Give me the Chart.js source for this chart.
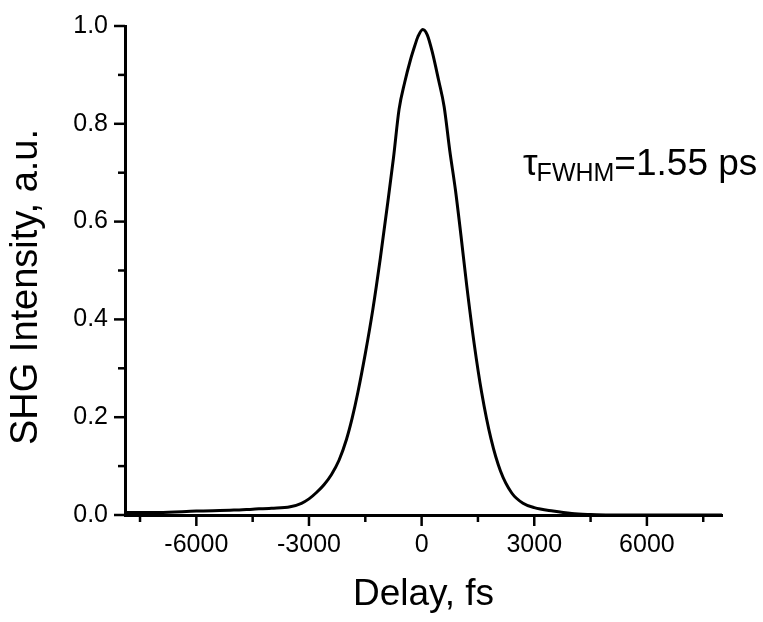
<!DOCTYPE html>
<html>
<head>
<meta charset="utf-8">
<script src="https://cdn.jsdelivr.net/npm/chart.js@4.4.0/dist/chart.umd.min.js"></script>
<style>
html, body { margin: 0; padding: 0; background: #fff; }
#wrap { width: 763px; height: 622px; }
</style>
</head>
<body>
<div id="wrap"><canvas id="c"></canvas></div>
<script>
// autocorrelation trace
var delayFs = [-7900, -7000, -6000, -5000, -4500, -4000, -3500, -3200, -3000, -2800,
	-2600, -2400, -2200, -2000, -1850, -1700, -1500, -1300, -1100, -900,
	-750, -600, -450, -300, -180, -100, 30, 150, 280, 450,
	600, 750, 900, 1050, 1200, 1400, 1600, 1850, 2100, 2400,
	2700, 3000, 3500, 4000, 4500, 5000, 6000, 7000, 8000];
var shgIntensity = [0.005, 0.005, 0.008, 0.010, 0.012, 0.014, 0.017, 0.024, 0.033, 0.046,
	0.062, 0.083, 0.112, 0.155, 0.198, 0.250, 0.330, 0.420, 0.525, 0.640,
	0.730, 0.830, 0.885, 0.930, 0.960, 0.978, 0.993, 0.982, 0.948, 0.890,
	0.835, 0.745, 0.665, 0.570, 0.470, 0.350, 0.250, 0.155, 0.090, 0.045,
	0.024, 0.015, 0.008, 0.003, 0.001, 0, 0, 0, 0];

var xTicks = [-7500, -6000, -4500, -3000, -1500, 0, 1500, 3000, 4500, 6000, 7500];
var xLabels = ["-6000", "-3000", "0", "3000", "6000"];
var yTicks = [0, 0.1, 0.2, 0.3, 0.4, 0.5, 0.6, 0.7, 0.8, 0.9, 1.0];
var yLabels = ["0.0", "0.2", "0.4", "0.6", "0.8", "1.0"];

var xTitle = "Delay, fs";
var yTitle = "SHG Intensity, a.u.";
var note = ["\u03c4", "FWHM", "=1.55 ps"];

var FONT = '"Liberation Sans", Arial, sans-serif';

function fmtX(v) { return String(v); }
function fmtY(v) { return Number(v).toFixed(1); }

// short outward ticks, longer on labelled values
var axisTicks = {
	id: "axisTicks",
	afterDraw: function(chart) {
		var ctx = chart.ctx;
		var a = chart.chartArea;
		var xs = chart.scales.x, ys = chart.scales.y;
		ctx.save();
		ctx.strokeStyle = "#000";
		ctx.lineWidth = 2.5;
		xTicks.forEach(function(v) {
			var px = xs.getPixelForValue(v);
			var len = xLabels.indexOf(fmtX(v)) >= 0 ? 11 : 7;
			ctx.beginPath();
			ctx.moveTo(px, a.bottom);
			ctx.lineTo(px, a.bottom + len);
			ctx.stroke();
		});
		yTicks.forEach(function(v) {
			var py = ys.getPixelForValue(v);
			var len = yLabels.indexOf(fmtY(v)) >= 0 ? 11 : 7;
			ctx.beginPath();
			ctx.moveTo(a.left, py);
			ctx.lineTo(a.left - len, py);
			ctx.stroke();
		});

		// y title
		ctx.fillStyle = "#000";
		ctx.save();
		ctx.translate(27, 287);
		ctx.rotate(-Math.PI / 2);
		ctx.font = "38px " + FONT;
		ctx.textAlign = "center";
		ctx.textBaseline = "middle";
		ctx.fillText(yTitle, 0, 0);
		ctx.restore();

		// tau_FWHM note
		var nx = xs.getPixelForValue(2700);
		var ny = ys.getPixelForValue(0.695);
		ctx.textAlign = "left";
		ctx.textBaseline = "alphabetic";
		ctx.font = "37px " + FONT;
		ctx.fillText(note[0], nx, ny);
		nx += ctx.measureText(note[0]).width - 1;
		ctx.font = "25px " + FONT;
		ctx.fillText(note[1], nx, ny + 6);
		nx += ctx.measureText(note[1]).width;
		ctx.font = "37px " + FONT;
		ctx.fillText(note[2], nx, ny);
		ctx.restore();
	}
};

var points = delayFs.map(function(d, i) { return { x: d, y: shgIntensity[i] }; });

new Chart(document.getElementById("c").getContext("2d"), {
	type: "line",
	data: {
		datasets: [{
			data: points,
			borderColor: "#000",
			borderWidth: 3,
			pointRadius: 0,
			fill: false,
			cubicInterpolationMode: "monotone"
		}]
	},
	options: {
		responsive: true,
		maintainAspectRatio: false,
		devicePixelRatio: 1,
		animation: false,
		layout: { padding: { top: 26, right: 41, left: 0, bottom: 0 } },
		plugins: { legend: { display: false }, tooltip: { enabled: false } },
		scales: {
			x: {
				type: "linear",
				min: -7900,
				max: 8000,
				afterFit: function(s) { s.height = 107; },
				afterBuildTicks: function(s) { s.ticks = xTicks.map(function(v) { return { value: v }; }); },
				grid: { drawOnChartArea: false, drawTicks: true, tickLength: 10, tickColor: "rgba(0,0,0,0)" },
				border: { display: true, color: "#000", width: 3 },
				ticks: {
					autoSkip: false,
					maxRotation: 0,
					padding: 5,
					color: "#000",
					font: { family: FONT, size: 25 },
					callback: function(v) { var s = fmtX(v); return xLabels.indexOf(s) >= 0 ? s : ""; }
				},
				title: {
					display: true,
					text: xTitle,
					color: "#000",
					font: { family: FONT, size: 37 },
					padding: { top: 0, bottom: 5 }
				}
			},
			y: {
				type: "linear",
				min: 0,
				max: 1.0,
				afterFit: function(s) { s.width = 125; },
				afterBuildTicks: function(s) { s.ticks = yTicks.map(function(v) { return { value: v }; }); },
				grid: { drawOnChartArea: false, drawTicks: true, tickLength: 10, tickColor: "rgba(0,0,0,0)" },
				border: { display: true, color: "#000", width: 3 },
				ticks: {
					autoSkip: false,
					padding: 7,
					color: "#000",
					font: { family: FONT, size: 25 },
					callback: function(v) { var s = fmtY(v); return yLabels.indexOf(s) >= 0 ? s : ""; }
				}
			}
		}
	},
	plugins: [axisTicks]
});
</script>
</body>
</html>
